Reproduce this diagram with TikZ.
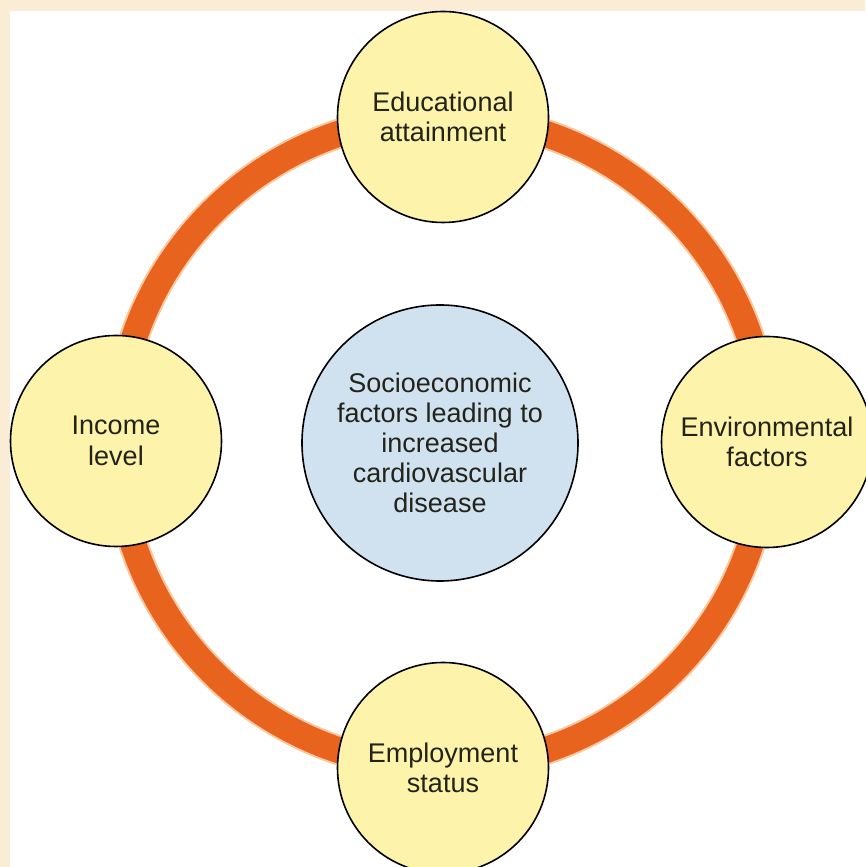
\documentclass[tikz,border=0pt]{standalone}
\usepackage{fontspec}
\setmainfont{Liberation Sans}
\definecolor{beige}{RGB}{251,236,214}
\definecolor{ringor}{RGB}{232,100,30}
\definecolor{ringhalo}{RGB}{250,200,160}
\definecolor{yellowfill}{RGB}{253,243,170}
\definecolor{bluefill}{RGB}{208,226,240}
\definecolor{txt}{RGB}{35,35,25}
\begin{document}
\begin{tikzpicture}[x=1pt,y=1pt,
  factor/.style={circle, draw=black, line width=1.6pt, fill=yellowfill,
    minimum size=211pt, inner sep=0pt, align=center, text=txt,
    font=\fontsize{27}{30.5}\selectfont},
  hub/.style={circle, draw=black, line width=1.6pt, fill=bluefill,
    minimum size=276pt, inner sep=0pt, align=center, text=txt,
    font=\fontsize{27}{30}\selectfont},
  ringline/.style={draw=ringor, line width=26pt}]
\useasboundingbox (0,0) rectangle (865,867);
\fill[beige] (0,0) rectangle (865,867);
\fill[white] (10,0) rectangle (865,856);
\coordinate (rc) at (442,425);
\draw[draw=ringhalo, line width=30pt] (rc) circle (325);
\draw[ringline] (rc) circle (325);
\node[factor] (edu) at (443,750) {Educational\\attainment};
\node[factor] (inc) at (116,426) {Income\\level};
\node[factor] (env) at (767,425) {Environmental\\factors};
\node[factor] (emp) at (443,99) {Employment\\status};
\node[hub] (hub) at (440,424) {Socioeconomic\\factors leading to\\increased\\cardiovascular\\disease};
\end{tikzpicture}
\end{document}
